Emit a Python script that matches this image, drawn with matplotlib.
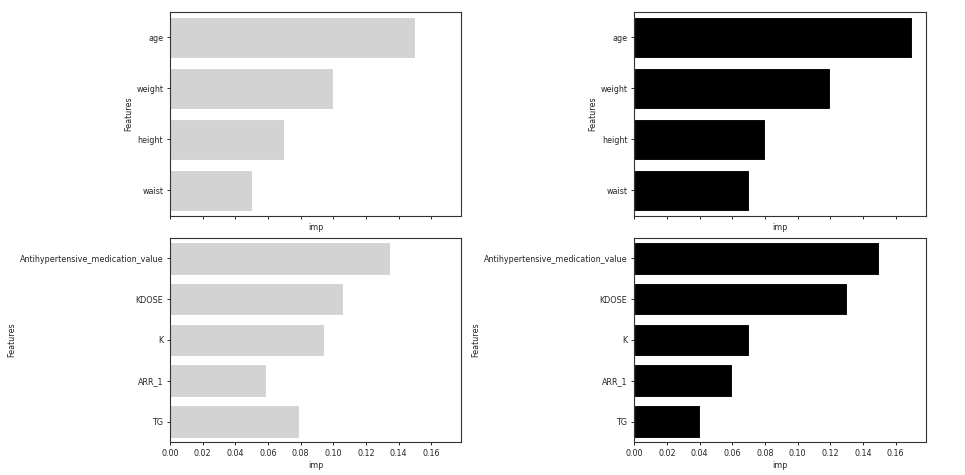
import matplotlib
matplotlib.use("Agg")
import matplotlib.pyplot as plt

features_top = ["age", "weight", "height", "waist"]
imp_top_left = [0.15, 0.10, 0.07, 0.05]
imp_top_right = [0.17, 0.12, 0.08, 0.07]

features_bottom = ["Antihypertensive_medication_value", "KDOSE", "K", "ARR_1", "TG"]
imp_bottom_left = [0.135, 0.106, 0.094, 0.059, 0.079]
imp_bottom_right = [0.15, 0.13, 0.07, 0.06, 0.04]

xticks = [0.00, 0.02, 0.04, 0.06, 0.08, 0.10, 0.12, 0.14, 0.16]

FS = 5.8
plt.rcParams.update({
    "font.family": "DejaVu Sans",
    "font.size": FS,
    "text.color": "0.15",
    "axes.labelcolor": "0.15",
    "axes.edgecolor": "0.2",
    "axes.linewidth": 0.8,
    "xtick.color": "0.15",
    "ytick.color": "0.15",
    "xtick.major.size": 2.4,
    "ytick.major.size": 2.4,
    "xtick.major.width": 0.7,
    "ytick.major.width": 0.7,
    "xtick.major.pad": 2.5,
    "ytick.major.pad": 2.5,
    "axes.labelpad": 2.5,
})

fig = plt.figure(figsize=(9.65, 4.75), dpi=100)
w, h = 0.302, 0.43
pos = {
    (0, 0): [0.1762, 0.5453, w, h],
    (0, 1): [0.6573, 0.5453, w, h],
    (1, 0): [0.1762, 0.0695, w, h],
    (1, 1): [0.6573, 0.0695, w, h],
}

panels = [
    ((0, 0), features_top, imp_top_left, "lightgrey"),
    ((0, 1), features_top, imp_top_right, "black"),
    ((1, 0), features_bottom, imp_bottom_left, "lightgrey"),
    ((1, 1), features_bottom, imp_bottom_right, "black"),
]

xmax = max(max(imp_top_left), max(imp_top_right), max(imp_bottom_left), max(imp_bottom_right)) * 1.05

for (r, c), feats, vals, color in panels:
    ax = fig.add_axes(pos[(r, c)])
    y = list(range(len(feats)))
    ax.barh(y, vals, height=0.8, color=color, edgecolor="white", linewidth=0.8)
    ax.set_yticks(y)
    ax.set_yticklabels(feats, fontsize=FS)
    ax.set_ylim(len(feats) - 0.5, -0.5)
    ax.set_xlim(0, xmax)
    ax.set_xticks(xticks)
    if r == 0:
        ax.tick_params(axis="x", labelbottom=False)
    else:
        ax.set_xticklabels([f"{t:.2f}" for t in xticks], fontsize=FS)
    ax.set_xlabel("imp", fontsize=FS)
    ax.set_ylabel("Features", fontsize=FS)

fig.savefig("out.png", dpi=100)
